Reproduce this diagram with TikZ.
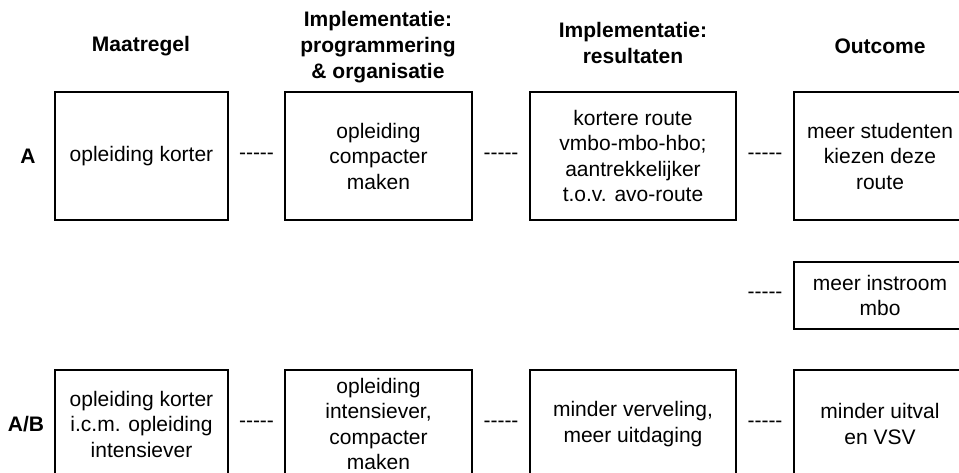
\documentclass[tikz,border=0pt]{standalone}
\usepackage{fontspec}
\setmainfont{Liberation Sans}
\usepackage{tikz}
\usetikzlibrary{calc,positioning}

\begin{document}
\begin{tikzpicture}[x=1pt,y=-1pt,
    box/.style={rectangle,draw=black,line width=1.8pt,align=center,inner sep=0pt,
        font=\fontsize{21}{25.5}\selectfont},
    head/.style={align=center,font=\fontsize{21}{26}\selectfont\bfseries},
    dashes/.style={font=\fontsize{21}{25.5}\selectfont,inner sep=0pt}
]
    \useasboundingbox (0,0) rectangle (959,472);
    \clip (0,0) rectangle (959,472);

    % Column headers
    \node[head] (hm) at (141,46) {Maatregel};
    \node[head] (hp) at (378,47) {Implementatie:\\programmering\\\& organisatie};
    \node[head] (hr) at (633,43) {Implementatie:\\resultaten};
    \node[head] (ho) at (880,46) {Outcome};

    % Row labels
    \node[head] (la) at (28,156) {A};
    \node[head] (lab) at (26,424) {A/B};

    % Row A
    \node[box,minimum width=173pt,minimum height=128pt] (m1) at (141.5,156) {opleiding korter};
    \node[box,minimum width=187pt,minimum height=128pt] (p1) at (378.5,156) {opleiding\\compacter\\maken};
    \node[box,minimum width=206pt,minimum height=128pt] (r1) at (633,156) {kortere route\\vmbo-mbo-hbo;\\aantrekkelijker\\t.o.v. avo-route};
    \node[box,minimum width=172pt,minimum height=128pt] (o1) at (880,156) {meer studenten\\kiezen deze\\route};

    % Extra outcome
    \node[box,minimum width=172pt,minimum height=67pt] (o2) at (880,295.5) {meer instroom\\mbo};

    % Row A/B
    \node[box,minimum width=173pt,minimum height=108pt] (m2) at (141.5,424) {opleiding korter\\i.c.m. opleiding\\intensiever};
    \node[box,minimum width=187pt,minimum height=108pt] (p2) at (378.5,424) {opleiding\\intensiever,\\compacter\\maken};
    \node[box,minimum width=206pt,minimum height=108pt] (r2) at (633,424) {minder verveling,\\meer uitdaging};
    \node[box,minimum width=172pt,minimum height=108pt] (o3) at (880,424) {minder uitval\\en VSV};

    % Dashed links as text
    \node[dashes] (d1) at ($(m1.east)!0.5!(p1.west)$) {-{}-{}-{}-{}-};
    \node[dashes] (d2) at ($(p1.east)!0.5!(r1.west)$) {-{}-{}-{}-{}-};
    \node[dashes] (d3) at ($(r1.east)!0.5!(o1.west)$) {-{}-{}-{}-{}-};
    \node[dashes] (d4) at ($(r1.east |- o2)!0.5!(o2.west)$) {-{}-{}-{}-{}-};
    \node[dashes] (d5) at ($(m2.east)!0.5!(p2.west)$) {-{}-{}-{}-{}-};
    \node[dashes] (d6) at ($(p2.east)!0.5!(r2.west)$) {-{}-{}-{}-{}-};
    \node[dashes] (d7) at ($(r2.east)!0.5!(o3.west)$) {-{}-{}-{}-{}-};
\end{tikzpicture}
\end{document}
